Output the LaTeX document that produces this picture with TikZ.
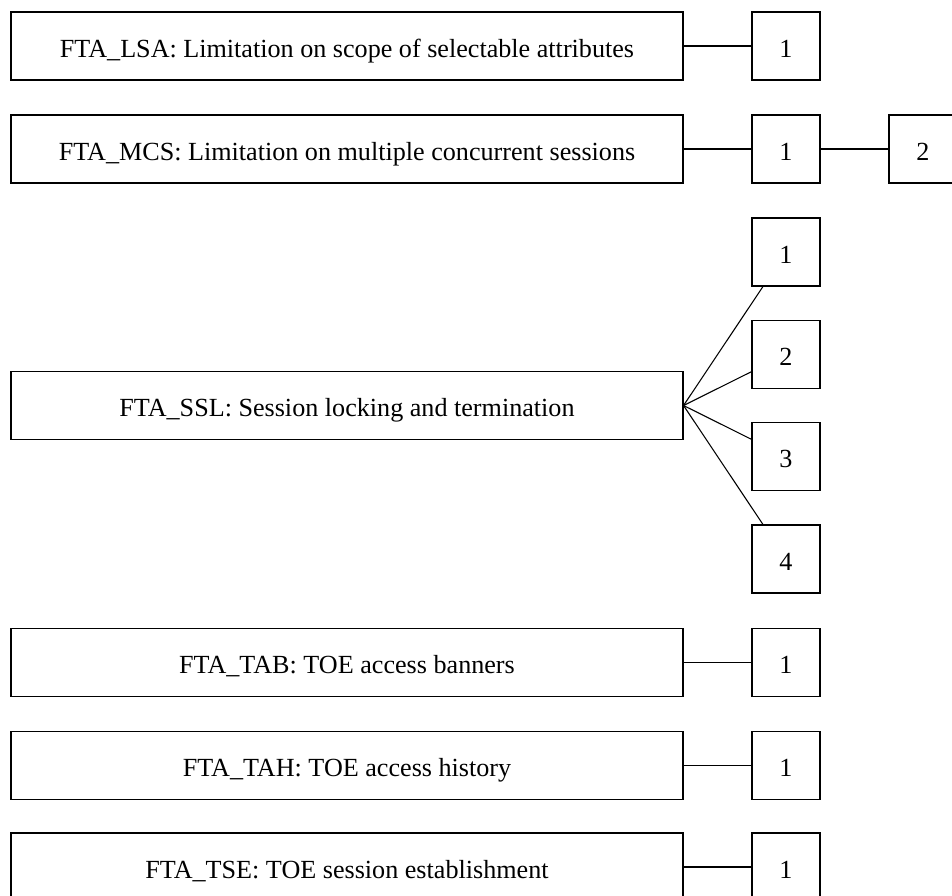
\documentclass[tikz,border=0pt]{standalone}
\usepackage{fontspec}
\setmainfont{Liberation Serif}
\usetikzlibrary{positioning}

\begin{document}
\begin{tikzpicture}[x=0.75pt,y=-0.75pt,
      fam/.style={draw,rectangle,line width=0.8pt,inner sep=0pt,
        font=\fontsize{19.6}{23}\selectfont,text height=16.7pt,text depth=0pt,
        minimum width=504pt,minimum height=51pt},
      cmp/.style={draw,rectangle,line width=0.8pt,inner sep=0pt,
        font=\fontsize{19.6}{23}\selectfont,text height=16.7pt,text depth=0pt,
        minimum width=51pt,minimum height=51pt},
      lnk/.style={line width=0.8pt}]
    \useasboundingbox (0,0) rectangle (952,895);
    \node[fam](lsa) at (347,46)    {FTA\_LSA: Limitation on scope of selectable attributes};
    \node[fam](mcs) at (347,149)   {FTA\_MCS: Limitation on multiple concurrent sessions};
    \node[fam](ssl) at (347,405.5) {FTA\_SSL: Session locking and termination};
    \node[fam](tab) at (347,662.5) {FTA\_TAB: TOE access banners};
    \node[fam](tah) at (347,765.5) {FTA\_TAH: TOE access history};
    \node[fam](tse) at (347,867)   {FTA\_TSE: TOE session establishment};
    \node[cmp](lsa1) at (786,46)    {1};
    \node[cmp](mcs1) at (786,149)   {1};
    \node[cmp](mcs2) at (923,149)   {2};
    \node[cmp](ssl1) at (786,252)   {1};
    \node[cmp](ssl2) at (786,354.5) {2};
    \node[cmp](ssl3) at (786,456.5) {3};
    \node[cmp](ssl4) at (786,559)   {4};
    \node[cmp](tab1) at (786,662.5) {1};
    \node[cmp](tah1) at (786,765.5) {1};
    \node[cmp](tse1) at (786,867)   {1};
    \draw[lnk](lsa)--(lsa1);
    \draw[lnk](mcs)--(mcs1);\draw[lnk](mcs1)--(mcs2);
    \draw[lnk](ssl.east)--(ssl1);\draw[lnk](ssl.east)--(ssl2);
    \draw[lnk](ssl.east)--(ssl3);\draw[lnk](ssl.east)--(ssl4);
    \draw[lnk](tab)--(tab1);\draw[lnk](tah)--(tah1);\draw[lnk](tse)--(tse1);
  \end{tikzpicture}
\end{document}
